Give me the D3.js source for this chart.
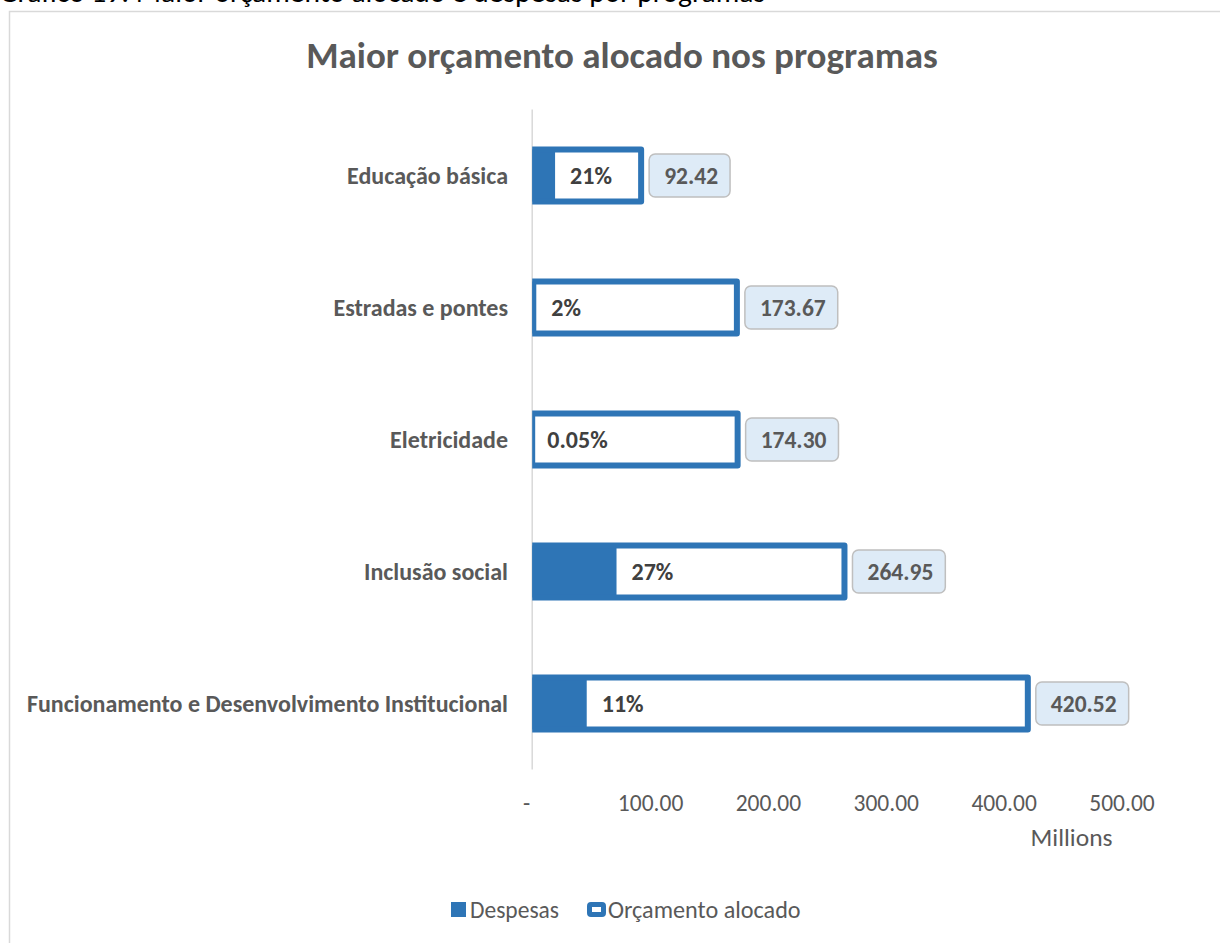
<!DOCTYPE html>
<html><head><meta charset="utf-8">
<script src="https://cdn.jsdelivr.net/npm/d3@7"></script>
<style>body{margin:0;background:#fff;overflow:hidden} svg{display:block}</style>
</head><body><svg id="c" width="1220" height="943"></svg>
<script>
const categories = ["Educação básica","Estradas e pontes","Eletricidade","Inclusão social","Funcionamento e Desenvolvimento Institucional"];
const orcamento = [92.42,173.67,174.30,264.95,420.52];
const despesas = [19.41,3.47,0.09,71.54,46.26];
const pctLabels = ["21%","2%","0.05%","27%","11%"];
const valueLabels = ["92.42","173.67","174.30","264.95","420.52"];
const xTicks = [0,100,200,300,400,500];
const xTickLabels = ["-","100.00","200.00","300.00","400.00","500.00"];
const seriesNames = ["Despesas","Orçamento alocado"];

const FONT = "Carlito, Calibri, Lato, sans-serif";
const BLUE = "#2E75B6", GREY = "#595959";
const svg = d3.select("#c");

// caption (cut at top)
svg.append("text").attr("x",-1).attr("y",2).attr("font-family",FONT).attr("font-size",29.5)
  .attr("fill","#000").text("Gráfico 19: Maior orçamento alocado e despesas por programas");
// chart frame
svg.append("rect").attr("x",9.5).attr("y",11.5).attr("width",1300).attr("height",1000)
  .attr("fill","none").attr("stroke","#D9D9D9").attr("stroke-width",1.5);

// title
svg.append("text").attr("x",622).attr("y",68).attr("text-anchor","middle")
  .attr("font-family",FONT).attr("font-weight","bold").attr("font-size",37).attr("fill",GREY)
  .text("Maior orçamento alocado nos programas");

const x = d3.scaleLinear().domain([0,500]).range([532.2,1121.5]);
const y = d3.scaleBand().domain(categories).range([109.5,769.5]).paddingInner(0.606).paddingOuter(0.303);

svg.append("defs").append("clipPath").attr("id","plot").append("rect")
  .attr("x",x(0)).attr("y",90).attr("width",700).attr("height",700);

// axis line
svg.append("line").attr("x1",x(0)).attr("x2",x(0)).attr("y1",109.5).attr("y2",769.5)
  .attr("stroke","#D9D9D9").attr("stroke-width",1.5);

const plot = svg.append("g").attr("clip-path","url(#plot)");
// despesas
plot.selectAll("rect.d").data(categories).join("rect").attr("class","d")
  .attr("x",x(0)).attr("y",d=>y(d)).attr("height",y.bandwidth())
  .attr("width",(d,i)=>x(despesas[i])-x(0)).attr("fill",BLUE);
// orçamento
plot.selectAll("rect.o").data(categories).join("rect").attr("class","o")
  .attr("x",x(0)).attr("y",d=>y(d)).attr("height",y.bandwidth())
  .attr("width",(d,i)=>x(orcamento[i])-x(0)).attr("fill","none")
  .attr("stroke",BLUE).attr("stroke-width",6).attr("stroke-linejoin","round");

// percent labels
svg.selectAll("text.p").data(categories).join("text").attr("class","p")
  .attr("x",(d,i)=>x(despesas[i])+15).attr("y",d=>y(d)+y.bandwidth()/2).attr("dy","0.35em")
  .attr("font-family",FONT).attr("font-weight","bold").attr("font-size",24).attr("fill","#404040")
  .text((d,i)=>pctLabels[i]);

// value labels with boxes
const vg = svg.selectAll("g.v").data(categories).join("g").attr("class","v")
  .attr("transform",(d,i)=>`translate(${x(orcamento[i])+8},${y(d)+y.bandwidth()/2})`);
const vbox = vg.append("rect").attr("fill","#DEEBF7").attr("stroke","#BFBFBF").attr("stroke-width",1.5).attr("rx",6);
const vtxt = vg.append("text").attr("x",15).attr("dy","0.35em")
  .attr("font-family",FONT).attr("font-weight","bold").attr("font-size",23.5).attr("fill",GREY)
  .text((d,i)=>valueLabels[i]);
vtxt.each(function(){
  const w = this.getComputedTextLength();
  d3.select(this.parentNode).select("rect").attr("x",0).attr("y",-21.5).attr("height",43).attr("width",w+27);
});

// category labels
svg.selectAll("text.c").data(categories).join("text").attr("class","c")
  .attr("x",508).attr("y",d=>y(d)+y.bandwidth()/2).attr("dy","0.35em").attr("text-anchor","end")
  .attr("font-family",FONT).attr("font-weight","bold").attr("font-size",24).attr("fill",GREY)
  .text(d=>d);

// x axis
const ax = svg.append("g").attr("transform","translate(0,794)")
  .call(d3.axisBottom(x).tickValues(xTicks).tickFormat((d,i)=>xTickLabels[i]).tickSize(0).tickPadding(0));
ax.select(".domain").remove();
ax.selectAll("text").attr("font-family",FONT).attr("font-size",23.5).attr("fill",GREY)
  .attr("dx",(d,i)=>i===0?-6:0);

svg.append("text").attr("x",1071.5).attr("y",846).attr("text-anchor","middle")
  .attr("font-family",FONT).attr("font-size",25.5).attr("fill",GREY).text("Millions");

// legend
const lg = svg.append("g");
lg.append("rect").attr("x",451).attr("y",902).attr("width",15).attr("height",15).attr("fill",BLUE);
lg.append("text").attr("x",470).attr("y",910).attr("dy","0.35em").attr("font-family",FONT)
  .attr("font-size",23.5).attr("fill",GREY).text(seriesNames[0]);
lg.append("rect").attr("x",589.5).attr("y",904.5).attr("width",14).attr("height",10).attr("rx",1.5)
  .attr("fill","#fff").attr("stroke",BLUE).attr("stroke-width",5);
lg.append("text").attr("x",608).attr("y",910).attr("dy","0.35em").attr("font-family",FONT)
  .attr("font-size",24.2).attr("fill",GREY).text(seriesNames[1]);
</script></body></html>
